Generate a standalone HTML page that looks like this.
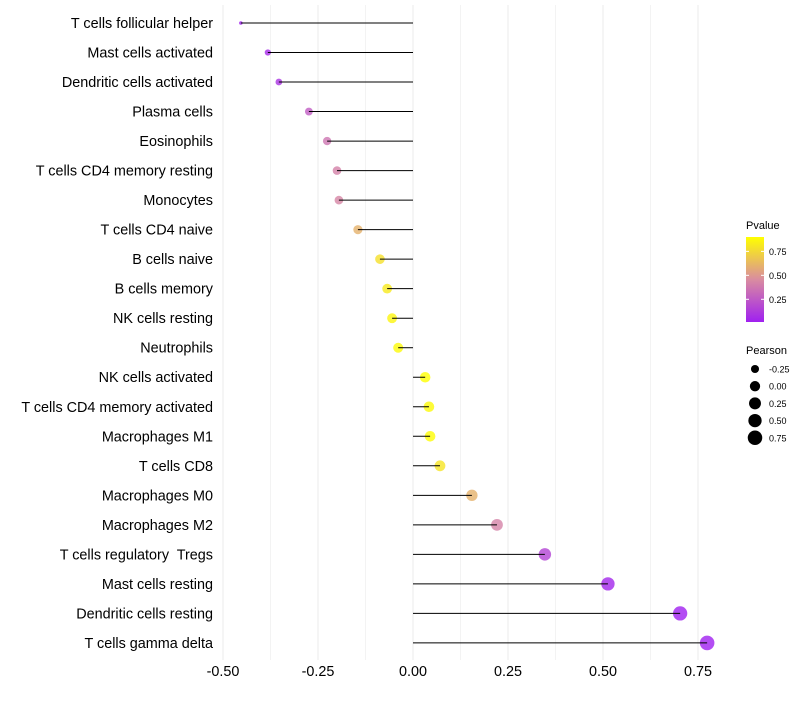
<!DOCTYPE html>
<html><head><meta charset="utf-8"><style>
body{margin:0;background:#fff;font-family:"Liberation Sans",sans-serif}
text{white-space:pre}
</style></head><body>
<svg id="c" width="800" height="700" xmlns="http://www.w3.org/2000/svg"></svg>
<script>
const categories=["T cells follicular helper","Mast cells activated","Dendritic cells activated","Plasma cells","Eosinophils","T cells CD4 memory resting","Monocytes","T cells CD4 naive","B cells naive","B cells memory","NK cells resting","Neutrophils","NK cells activated","T cells CD4 memory activated","Macrophages M1","T cells CD8","Macrophages M0","Macrophages M2","T cells regulatory  Tregs","Mast cells resting","Dendritic cells resting","T cells gamma delta"];
const pearson=[-0.453,-0.382,-0.353,-0.274,-0.226,-0.200,-0.195,-0.145,-0.087,-0.068,-0.055,-0.039,0.032,0.042,0.045,0.071,0.155,0.221,0.347,0.513,0.703,0.774];
const pvalue=[0.02,0.06,0.09,0.26,0.36,0.41,0.43,0.6,0.78,0.82,0.86,0.88,0.9,0.88,0.89,0.8,0.6,0.42,0.16,0.04,0.015,0.013];
const xTicks=[-0.5,-0.25,0,0.25,0.5,0.75];
const xTickLabels=["-0.50","-0.25","0.00","0.25","0.50","0.75"];
const legP=[0.75,0.5,0.25];
const legS=[-0.25,0,0.25,0.5,0.75];
const legSLabels=["-0.25","0.00","0.25","0.50","0.75"];

const svg=document.getElementById('c');const NS="http://www.w3.org/2000/svg";
function el(t,a,txt){const e=document.createElementNS(NS,t);for(const k in a)e.setAttribute(k,a[k]);if(txt!==undefined)e.textContent=txt;svg.appendChild(e);return e;}
const x=v=>413+v*380;
const y=i=>23+i*29.52;
const r=v=>1.8+5.5*Math.sqrt(Math.max(0,(v+0.453)/1.227));
function lerp(a,b,t){return a.map((c,i)=>Math.round(c+(b[i]-c)*t));}
const pmin=0.013,pmax=0.9;
function col(p){let t=Math.max(0,Math.min(1,(p-pmin)/(pmax-pmin)));const A=[160,32,240],M=[217,140,160],B=[255,255,0];const c=t<0.5?lerp(A,M,t/0.5):lerp(M,B,(t-0.5)/0.5);return `rgb(${c})`;}
for(let v=-0.5;v<=0.76;v+=0.125){const g=el('line',{x1:x(v),x2:x(v),y1:5,y2:660,stroke:'#ebebeb','stroke-width':Math.abs((v*4)%1)<0.01?1:0.6});}
xTicks.forEach((v,i)=>{const t=el('text',{x:x(v),y:676,'text-anchor':'middle','font-size':14.4,fill:'#000'},xTickLabels[i]);});
categories.forEach((c,i)=>{
 const t=el('text',{x:213,y:y(i)+5,'text-anchor':'end','font-size':14.4,fill:'#000'},c);
 const d=el('circle',{cx:x(pearson[i]),cy:y(i),r:r(pearson[i]),fill:col(pvalue[i]),'fill-opacity':0.8});
 const l=el('line',{x1:x(0),x2:x(pearson[i]),y1:y(i),y2:y(i),stroke:'#000','stroke-width':1});
});
let t=el('text',{x:746,y:229,'font-size':11},'Pvalue');
const defs=el('defs',{});const lg=document.createElementNS(NS,'linearGradient');lg.setAttribute('id','g');lg.setAttribute('x1',0);lg.setAttribute('y1',1);lg.setAttribute('x2',0);lg.setAttribute('y2',0);defs.appendChild(lg);
for(let k=0;k<=10;k++){const s=document.createElementNS(NS,'stop');s.setAttribute('offset',k/10);s.setAttribute('stop-color',col(pmin+(pmax-pmin)*k/10));lg.appendChild(s);}
const bar=el('rect',{x:746,y:237,width:18,height:85,fill:'url(#g)'});
const py=p=>322-(p-pmin)/(pmax-pmin)*85;
legP.forEach(p=>{el('line',{x1:746,x2:749,y1:py(p),y2:py(p),stroke:'#fff'});el('line',{x1:761,x2:764,y1:py(p),y2:py(p),stroke:'#fff'});const tt=el('text',{x:769,y:py(p)+3.5,'font-size':9},p.toFixed(2));});
t=el('text',{x:746,y:354,'font-size':11},'Pearson');
legS.forEach((v,i)=>{const cy=369+i*17.2;const d=el('circle',{cx:755,cy:cy,r:r(v),fill:'#000'});const tt=el('text',{x:769,y:cy+3.5,'font-size':9},legSLabels[i]);});
</script>
</body></html>
